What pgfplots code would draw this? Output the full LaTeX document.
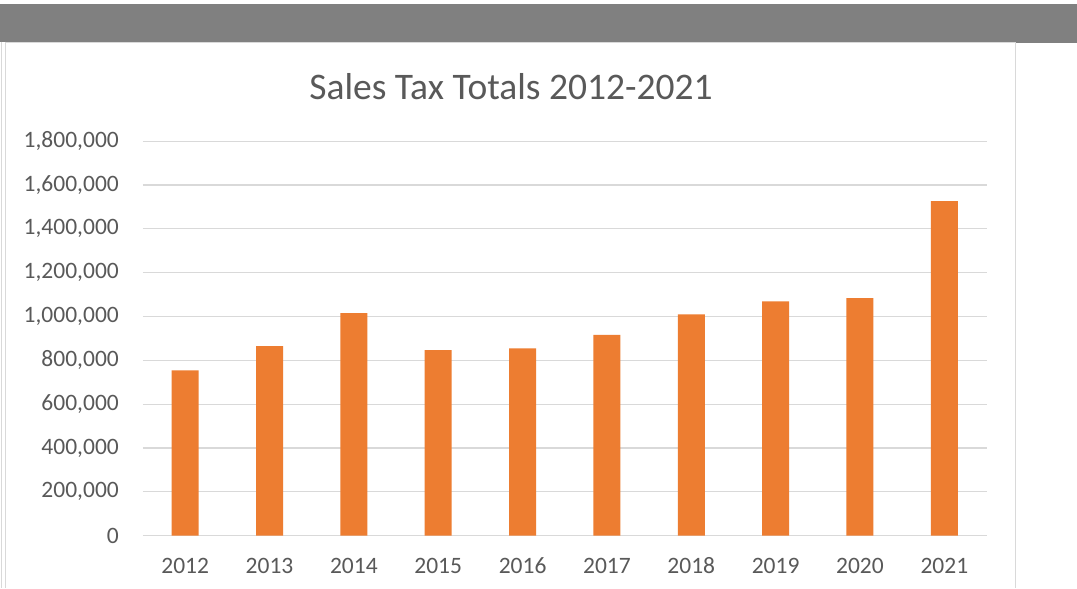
\documentclass[border=0pt]{standalone}
\usepackage{pgfplots}
\pgfplotsset{compat=1.18}
\usepackage{fontspec}
\setmainfont{Carlito}
\definecolor{barorange}{HTML}{ED7D31}
\definecolor{gridgray}{HTML}{D9D9D9}
\definecolor{textgray}{HTML}{595959}
\definecolor{bandgray}{HTML}{808080}
\definecolor{framegray}{HTML}{D9D9D9}
\begin{document}
\begin{tikzpicture}[x=1pt,y=1pt]
  % background and frame
  \fill[white] (0,0) rectangle (1077,-588);
  \fill[bandgray] (0,-4) rectangle (1077,-41.5);
  \fill[bandgray] (1015.5,-41) rectangle (1077,-43);
  \draw[framegray, line width=1.2pt] (1.5,-41.5) -- (1.5,-588);
  \draw[framegray, line width=1.2pt] (5.5,-41.5) -- (5.5,-588);
  \draw[framegray, line width=1.6pt] (5.5,-42.3) -- (1015.5,-42.3) -- (1015.5,-588);
  % title
  \node[text=textgray, font=\fontsize{37.5}{42}\selectfont, anchor=center] at (511,-87) {Sales Tax Totals 2012-2021};
  \begin{axis}[
    at={(143pt,-535.6pt)}, anchor=south west,
    scale only axis, width=843.5pt, height=394.4pt,
    xmin=-0.5, xmax=9.5,
    ymin=0, ymax=1800000,
    ytick={0,200000,400000,600000,800000,1000000,1200000,1400000,1600000,1800000},
    xtick=data,
    xticklabels={2012,2013,2014,2015,2016,2017,2018,2019,2020,2021},
    ymajorgrids,
    grid style={gridgray, line width=1.1pt},
    axis line style={draw=none},
    major tick length=0pt,
    scaled y ticks=false,
    /pgf/number format/.cd, fixed, 1000 sep={,}, assume math mode=true,
    /pgfplots/.cd,
    ticklabel style={text=textgray, font=\fontsize{23.5}{27}\selectfont, inner sep=0pt},
    yticklabel style={anchor=east, xshift=-24pt},
    xticklabel style={anchor=north, yshift=-22.5pt, text height=15pt, text depth=0pt},
    clip=false,
  ]
    \addplot[ybar, bar width=27pt, fill=barorange, draw=none] coordinates {
      (0,754000) (1,865000) (2,1015000) (3,846000) (4,855000)
      (5,916000) (6,1010000) (7,1069000) (8,1084000) (9,1526000)
    };
  \end{axis}
\end{tikzpicture}
\end{document}
